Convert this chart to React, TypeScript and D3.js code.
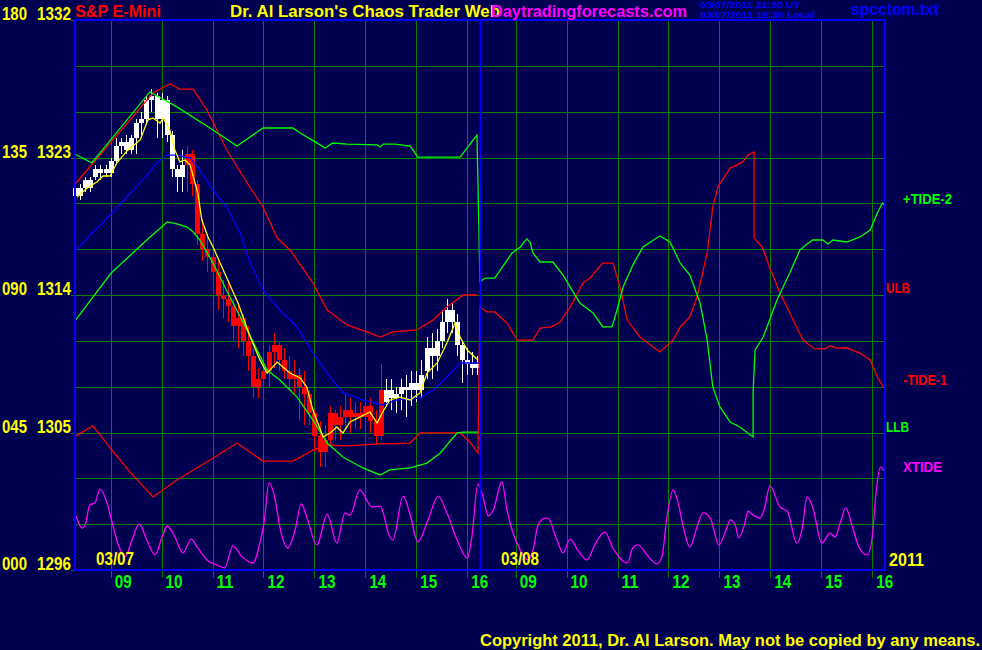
import * as d3 from "d3";

// ---- data -----------------------------------------------------------------
// time axis: clock hours, day 2 (03/08) = 24 + hour
const sessionBreaks = [8.3, 16.25, 32.3, 40.25];
const dayOffsets = [0, 24];
const dayLabels = ["03/07", "03/08"];
const hourTicks = [9, 10, 11, 12, 13, 14, 15, 16];
const priceTicks = [1296, 1305, 1314, 1323, 1332];
const oscTicks = [0, 45, 90, 135, 180];
const gridStepPts = 3;

// 6-minute price bars for 03/07
const barStart = 8.3;
const barStep = 0.1;
const redFrom = 10.5;
const redTo = 14.3;
const barOpen = [1320.5, 1320.5, 1321.0, 1321.5, 1321.75, 1322.25, 1322.0, 1322.0, 1322.75, 1323.75,
  1324.0, 1323.5, 1324.25, 1325.25, 1325.5, 1326.75, 1327.0, 1325.5, 1326.75, 1324.5,
  1322.25, 1321.75, 1322.5, 1323.25, 1321.25, 1318.0, 1317.0, 1316.5, 1315.5, 1314.0,
  1313.75, 1313.25, 1312.0, 1312.5, 1311.0, 1310.0, 1308.0, 1308.5, 1309.0, 1310.25,
  1310.75, 1309.75, 1309.0, 1308.5, 1308.75, 1308.0, 1307.5, 1306.25, 1304.75, 1303.75,
  1304.5, 1306.25, 1305.5, 1306.0, 1306.5, 1306.0, 1306.25, 1306.0, 1306.75, 1305.75,
  1304.75, 1307.0, 1307.75, 1307.25, 1307.5, 1308.0, 1307.75, 1308.25, 1307.75, 1309.0,
  1310.5, 1310.0, 1311.0, 1312.25, 1313.0, 1312.25, 1310.75, 1309.75, 1309.5, 1309.25];
const barHigh = [1321.25, 1321.25, 1321.75, 1321.75, 1322.5, 1322.5, 1322.5, 1323.0, 1324.25, 1324.25,
  1324.5, 1324.5, 1325.5, 1326.0, 1327.0, 1327.5, 1327.25, 1327.25, 1327.0, 1324.75,
  1322.5, 1323.5, 1323.75, 1323.5, 1321.5, 1319.0, 1318.0, 1317.0, 1316.25, 1315.0,
  1315.0, 1313.75, 1313.5, 1312.75, 1312.0, 1310.5, 1309.25, 1309.75, 1310.75, 1311.5,
  1311.0, 1310.5, 1310.0, 1309.75, 1309.25, 1309.0, 1307.75, 1306.5, 1305.75, 1305.5,
  1306.75, 1306.5, 1306.75, 1307.5, 1307.25, 1307.0, 1307.0, 1307.5, 1307.25, 1306.5,
  1309.5, 1308.5, 1308.5, 1308.0, 1308.5, 1308.75, 1309.0, 1309.0, 1309.75, 1311.25,
  1311.5, 1311.75, 1313.0, 1313.75, 1313.5, 1312.75, 1311.0, 1310.5, 1310.25, 1310.0];
const barLow = [1320.25, 1320.25, 1320.75, 1320.75, 1321.5, 1321.5, 1321.75, 1321.75, 1322.5, 1323.25,
  1323.25, 1323.25, 1323.25, 1324.5, 1325.25, 1326.0, 1324.25, 1324.25, 1324.0, 1321.75,
  1320.75, 1320.75, 1320.75, 1320.5, 1317.25, 1316.25, 1315.5, 1314.5, 1313.0, 1312.5,
  1312.25, 1311.0, 1310.5, 1310.0, 1309.0, 1307.25, 1307.25, 1307.75, 1308.0, 1309.25,
  1309.0, 1308.5, 1307.75, 1307.5, 1305.75, 1305.5, 1305.5, 1303.75, 1302.75, 1302.75,
  1304.25, 1304.5, 1304.5, 1305.25, 1305.0, 1305.25, 1305.25, 1305.25, 1305.0, 1304.25,
  1304.5, 1306.75, 1306.5, 1306.25, 1306.5, 1306.0, 1306.75, 1307.0, 1307.25, 1308.5,
  1308.5, 1309.0, 1310.5, 1311.5, 1311.5, 1310.0, 1308.25, 1308.75, 1308.75, 1308.75];
const barClose = [1321.0, 1321.0, 1321.5, 1321.0, 1322.25, 1322.0, 1322.25, 1322.75, 1323.75, 1324.0,
  1323.5, 1324.25, 1325.25, 1325.5, 1326.75, 1327.0, 1325.5, 1326.75, 1324.5, 1322.25,
  1321.75, 1322.5, 1323.25, 1321.25, 1318.0, 1317.0, 1316.5, 1315.5, 1314.0, 1313.75,
  1313.25, 1312.0, 1312.5, 1311.0, 1310.0, 1308.0, 1308.5, 1309.0, 1310.25, 1310.75,
  1309.75, 1309.0, 1308.5, 1308.75, 1308.0, 1307.5, 1306.25, 1304.75, 1303.75, 1304.5,
  1306.25, 1305.5, 1306.0, 1306.5, 1306.0, 1306.25, 1306.0, 1306.75, 1305.75, 1304.75,
  1307.75, 1307.75, 1307.25, 1307.5, 1308.0, 1307.75, 1308.25, 1307.75, 1308.75, 1310.5,
  1310.0, 1311.0, 1312.25, 1313.0, 1312.25, 1310.75, 1309.75, 1309.5, 1309.25, 1309.5];

type Pt = [number, number];

// upper band (03/07) continuing as +TIDE-2 (03/08)
const greenUpper: Pt[] = [[8.30, 1323.23], [8.63, 1322.64], [9.77, 1327.29], [10.30, 1326.31], [11.01, 1324.80],
  [11.48, 1323.75], [11.99, 1324.93], [12.58, 1324.93], [12.72, 1324.60], [12.95, 1324.15], [13.21, 1323.62],
  [13.36, 1323.95], [13.64, 1323.88], [14.23, 1323.82], [14.29, 1323.69], [14.35, 1323.88], [14.58, 1323.88],
  [14.88, 1323.75], [15.03, 1323.03], [15.86, 1323.03], [16.19, 1324.47],
  [32.30, 1314.85], [32.40, 1315.11], [32.59, 1315.11], [32.93, 1316.75], [33.09, 1317.14], [33.22, 1317.67],
  [33.28, 1317.47], [33.34, 1316.75], [33.48, 1316.16], [33.73, 1316.16], [33.93, 1315.31], [34.07, 1314.52],
  [34.26, 1313.48], [34.52, 1312.82], [34.71, 1311.91], [34.89, 1311.91], [34.99, 1313.02], [35.11, 1314.52],
  [35.30, 1315.96], [35.50, 1317.14], [35.83, 1317.86], [36.03, 1317.47], [36.23, 1316.09], [36.42, 1315.31],
  [36.62, 1313.48], [36.76, 1311.05], [36.87, 1307.98], [37.01, 1306.67], [37.21, 1305.69], [37.40, 1305.36],
  [37.66, 1304.71], [37.66, 1307.59], [37.70, 1310.40], [37.86, 1311.25], [38.13, 1313.67], [38.38, 1315.44],
  [38.58, 1316.95], [38.72, 1317.34], [38.83, 1317.60], [39.03, 1317.60], [39.13, 1317.34], [39.23, 1317.60],
  [39.50, 1317.47], [39.76, 1317.80], [39.96, 1318.25], [40.10, 1319.37], [40.20, 1320.02], [40.24, 1319.89]];

const greenLower: Pt[] = [[8.30, 1312.30], [9.01, 1315.44], [9.71, 1317.60], [10.11, 1318.78], [10.30, 1318.65],
  [10.50, 1318.45], [10.62, 1318.12], [10.75, 1317.60], [11.01, 1316.09], [11.34, 1313.87], [11.68, 1311.71],
  [12.07, 1309.09], [12.32, 1308.44], [12.66, 1307.32], [12.97, 1305.82], [13.25, 1304.31], [13.56, 1303.40],
  [13.95, 1302.68], [14.29, 1302.22], [14.48, 1302.55], [14.88, 1302.68], [15.21, 1303.00], [15.47, 1303.66],
  [15.80, 1304.97], [15.92, 1305.03], [16.21, 1305.03]];

const redUpper: Pt[] = [[8.32, 1321.33], [9.83, 1327.22], [10.16, 1327.81], [10.36, 1327.48], [10.62, 1327.48],
  [10.89, 1326.11], [11.28, 1323.49], [11.68, 1321.33], [11.99, 1319.76], [12.27, 1317.73], [12.52, 1316.95],
  [12.97, 1314.79], [13.25, 1313.02], [13.64, 1312.04], [14.03, 1311.58], [14.29, 1311.25], [14.54, 1311.58],
  [15.01, 1311.71], [15.33, 1312.37], [15.60, 1313.22], [15.92, 1314.00], [16.19, 1314.00]];

// lower band (03/07) continuing as -TIDE-1 (03/08)
const redLower: Pt[] = [[8.32, 1304.77], [8.65, 1305.43], [8.99, 1303.99], [9.38, 1302.41], [9.83, 1300.78],
  [10.30, 1301.89], [10.95, 1303.20], [11.48, 1304.31], [11.99, 1303.13], [12.58, 1303.13], [12.97, 1303.85],
  [13.25, 1304.18], [13.64, 1304.12], [14.29, 1304.25], [14.88, 1304.31], [15.07, 1304.97], [15.86, 1304.97],
  [16.05, 1304.38], [16.21, 1303.66],
  [32.30, 1313.21], [32.44, 1312.89], [32.59, 1312.89], [32.83, 1312.17], [33.03, 1311.05], [33.34, 1311.05],
  [33.48, 1311.84], [33.71, 1311.91], [33.87, 1312.23], [34.07, 1313.21], [34.32, 1314.79], [34.46, 1315.11],
  [34.71, 1316.09], [34.91, 1316.09], [35.05, 1314.52], [35.19, 1312.36], [35.44, 1311.25], [35.83, 1310.27],
  [36.09, 1311.05], [36.23, 1311.91], [36.42, 1312.56], [36.56, 1313.87], [36.76, 1316.75], [36.87, 1319.76],
  [36.97, 1321.07], [37.21, 1322.31], [37.46, 1322.71], [37.56, 1323.16], [37.68, 1323.36], [37.68, 1317.73],
  [37.84, 1317.14], [37.99, 1315.77], [38.19, 1314.13], [38.38, 1312.82], [38.64, 1311.05], [38.87, 1310.47],
  [39.07, 1310.47], [39.17, 1310.66], [39.31, 1310.53], [39.50, 1310.53], [39.76, 1310.20], [39.96, 1309.75],
  [40.10, 1308.63], [40.22, 1307.98]];

const blueAvg: Pt[] = [[8.30, 1316.81], [8.54, 1317.73], [8.99, 1319.24], [9.32, 1320.41], [9.71, 1321.85],
  [9.91, 1322.64], [10.11, 1323.16], [10.30, 1323.16], [10.56, 1322.97], [10.75, 1322.18], [11.01, 1320.87],
  [11.28, 1319.76], [11.54, 1318.06], [11.74, 1316.09], [11.99, 1314.33], [12.32, 1313.02], [12.66, 1311.91],
  [12.97, 1310.20], [13.31, 1308.63], [13.56, 1307.59], [13.95, 1307.13], [14.33, 1306.80], [14.62, 1307.13],
  [15.07, 1307.26], [15.33, 1307.78], [15.60, 1308.63], [15.86, 1309.55], [16.21, 1309.55]];

const yellowAvg: Pt[] = [[8.34, 1320.41], [8.54, 1321.00], [8.73, 1321.40], [8.85, 1321.79], [8.99, 1321.79],
  [9.12, 1322.64], [9.32, 1323.43], [9.58, 1324.15], [9.73, 1325.45], [9.83, 1325.59], [9.97, 1325.26],
  [10.03, 1325.59], [10.16, 1324.80], [10.26, 1323.49], [10.36, 1322.71], [10.46, 1322.84], [10.56, 1322.51],
  [10.71, 1320.68], [10.79, 1318.91], [10.91, 1317.80], [11.01, 1317.14], [11.21, 1315.64], [11.50, 1313.48],
  [11.74, 1311.25], [11.93, 1309.75], [12.07, 1308.89], [12.27, 1309.61], [12.38, 1309.29], [12.52, 1308.89],
  [12.72, 1308.57], [12.85, 1307.98], [12.97, 1306.47], [13.17, 1304.71], [13.31, 1304.97], [13.44, 1305.36],
  [13.56, 1304.97], [13.70, 1305.69], [13.89, 1306.01], [14.09, 1306.34], [14.23, 1305.62], [14.33, 1306.28],
  [14.48, 1307.13], [14.68, 1307.32], [14.88, 1307.13], [15.07, 1307.59], [15.21, 1308.89], [15.41, 1309.55],
  [15.60, 1310.86], [15.76, 1312.17], [15.86, 1311.25], [16.00, 1310.40], [16.21, 1309.75]];

// XTIDE on the 000-180 scale
const xtide: Pt[] = [[8.32, 17.7], [8.44, 13.7], [8.50, 14.7], [8.59, 21.3], [8.69, 21.9], [8.79, 26.5],
  [8.93, 21.9], [9.03, 15.4], [9.14, 8.8], [9.28, 4.3], [9.42, 9.8], [9.56, 15.1], [9.71, 9.8], [9.87, 4.9],
  [10.01, 10.8], [10.11, 14.4], [10.26, 10.8], [10.42, 5.6], [10.58, 10.1], [10.70, 7.5], [10.89, 3.3],
  [11.09, 1.6], [11.24, 0.7], [11.40, 7.9], [11.58, 4.3], [11.79, 2.3], [11.93, 8.8], [12.01, 15.4],
  [12.11, 28.5], [12.23, 22.9], [12.32, 14.1], [12.48, 7.2], [12.62, 13.1], [12.74, 21.6], [12.85, 17.3],
  [13.05, 8.2], [13.25, 18.3], [13.44, 8.8], [13.60, 18.7], [13.70, 18.0], [13.89, 26.2], [14.13, 20.6],
  [14.29, 20.9], [14.48, 10.8], [14.54, 9.8], [14.74, 24.2], [14.88, 18.0], [15.03, 9.2], [15.23, 16.4],
  [15.43, 24.2], [15.60, 18.7], [15.80, 9.8], [16.00, 3.9], [16.09, 10.8], [16.21, 28.1],
  [32.36, 23.9], [32.46, 17.7], [32.56, 19.6], [32.73, 28.8], [32.83, 19.6], [32.93, 13.1], [33.09, 6.5],
  [33.24, 3.3], [33.34, 6.5], [33.44, 14.7], [33.58, 17.0], [33.63, 17.0], [33.81, 9.8], [33.93, 5.6],
  [34.07, 10.1], [34.22, 6.5], [34.40, 3.3], [34.56, 8.5], [34.75, 12.4], [34.91, 7.2], [35.19, 2.3],
  [35.30, 7.2], [35.40, 8.2], [35.58, 4.9], [35.77, 2.0], [35.87, 4.3], [35.97, 17.3], [36.09, 26.2],
  [36.19, 21.9], [36.29, 14.1], [36.42, 7.5], [36.56, 14.1], [36.68, 18.7], [36.82, 17.0], [36.99, 8.2],
  [37.15, 14.1], [37.21, 16.4], [37.31, 14.7], [37.38, 10.5], [37.50, 15.4], [37.56, 19.3], [37.66, 18.0],
  [37.80, 17.0], [37.89, 20.6], [37.99, 27.5], [38.19, 20.6], [38.33, 19.3], [38.52, 8.8], [38.62, 13.1],
  [38.72, 23.9], [38.83, 20.6], [39.01, 8.8], [39.17, 12.1], [39.27, 10.8], [39.37, 15.4], [39.48, 20.3],
  [39.60, 14.7], [39.72, 8.2], [39.90, 4.9], [40.00, 10.8], [40.06, 22.9], [40.16, 33.7], [40.25, 32.1]];

const sideLabels = [
  { text: "+TIDE-2", color: "#00ff00", price: 1319.96, indent: 18, width: 49 },
  { text: "ULB", color: "#ff0000", price: 1314.13, indent: 1, width: 24 },
  { text: "-TIDE-1", color: "#ff0000", price: 1308.1, indent: 18, width: 44 },
  { text: "LLB", color: "#00ff00", price: 1305.03, indent: 1, width: 23 },
  { text: "XTIDE", color: "#ff00ff", price: 1302.41, indent: 18, width: 39 },
];

// ---- chart ----------------------------------------------------------------
const W = 982;
const H = 650;
const BG = "#000050";
const GRID = "#008000";
const FRAME = "#0000ff";
const FONT = "'Liberation Sans', Arial, sans-serif";

export default function App() {
  const left = 75, right = 885, top = 20, bottom = 570;

  const x = d3.scaleLinear().domain(sessionBreaks).range([left, 480, 480, right]);
  const y = d3.scaleLinear().domain([priceTicks[0], priceTicks[priceTicks.length - 1]]).range([bottom, top]);
  const yOsc = d3.scaleLinear().domain([oscTicks[0], oscTicks[oscTicks.length - 1]]).range([bottom, top]);

  const priceLine = d3.line<Pt>().x((d) => x(d[0])).y((d) => y(d[1]));
  const oscLine = d3.line<Pt>().x((d) => x(d[0])).y((d) => yOsc(d[1])).curve(d3.curveMonotoneX);

  const gridPrices = d3.range(priceTicks[0] + gridStepPts, priceTicks[priceTicks.length - 1], gridStepPts);
  const gridHours = dayOffsets.flatMap((off) => hourTicks.map((h) => h + off));
  const fmtOsc = d3.format("03d");

  const bars = barOpen.map((o, i) => {
    const t = barStart + i * barStep;
    return { t, o, h: barHigh[i], l: barLow[i], c: barClose[i], red: t >= redFrom - 1e-6 && t <= redTo + 1e-6 };
  });

  const lines: { data: Pt[]; color: string }[] = [
    { data: blueAvg, color: "#0000ff" },
    { data: redUpper, color: "#ff0000" },
    { data: redLower, color: "#ff0000" },
    { data: greenUpper, color: "#00ff00" },
    { data: greenLower, color: "#00ff00" },
  ];

  return (
    <svg width={W} height={H} style={{ position: "absolute", left: 0, top: 0, background: BG }} fontFamily={FONT}>
      <rect width={W} height={H} fill={BG} />

      {/* grid */}
      <g stroke={GRID} strokeWidth={1} shapeRendering="crispEdges">
        {gridPrices.map((p) => (
          <line key={p} x1={left} x2={right} y1={Math.round(y(p))} y2={Math.round(y(p))} />
        ))}
        {gridHours.map((h) => (
          <line key={h} x1={Math.round(x(h))} x2={Math.round(x(h))} y1={top} y2={bottom + 8} />
        ))}
        {priceTicks.map((p) => (
          <line key={"t" + p} x1={left - 4} x2={left} y1={Math.round(y(p))} y2={Math.round(y(p))} />
        ))}
      </g>

      {/* price bars */}
      <g>
        {bars.map((b, i) => {
          const cx = x(b.t);
          const col = b.red ? "#ff0000" : "#ffffff";
          const y0 = y(Math.max(b.o, b.c));
          const y1 = y(Math.min(b.o, b.c));
          return (
            <g key={i} fill={col} shapeRendering="crispEdges">
              <rect x={Math.round(cx)} y={y(b.h)} width={1} height={y(b.l) - y(b.h)} />
              <rect x={Math.round(cx) - 2} y={y0} width={5} height={Math.max(2, y1 - y0)} />
            </g>
          );
        })}
      </g>

      {/* bands & averages */}
      <g fill="none" strokeWidth={1.3}>
        {lines.map((l, i) => (
          <path key={i} d={priceLine(l.data) ?? ""} stroke={l.color} />
        ))}
        <path d={priceLine(yellowAvg) ?? ""} stroke="#ffff00" />
        <path d={oscLine(xtide) ?? ""} stroke="#ff00ff" />
      </g>

      {/* frame */}
      <g stroke={FRAME} fill="none">
        <rect x={left} y={top} width={right - left} height={bottom - top} strokeWidth={2} />
        <line x1={480.5} x2={480.5} y1={top} y2={bottom} strokeWidth={2} />
      </g>

      {/* left scale */}
      <g fill="#ffff00" fontSize={19} fontWeight="bold">
        {priceTicks.map((p, i) => (
          <g key={p}>
            <text x={2} y={y(p)} textLength={25} lengthAdjust="spacingAndGlyphs">{fmtOsc(oscTicks[i])}</text>
            <text x={37} y={y(p)} textLength={34} lengthAdjust="spacingAndGlyphs">{p}</text>
          </g>
        ))}
      </g>

      {/* hour labels */}
      <g fill="#00ff00" fontSize={18} fontWeight="bold">
        {gridHours.map((h) => (
          <text key={h} x={x(h) + 4} y={588} textLength={17} lengthAdjust="spacingAndGlyphs">
            {String(h % 24).padStart(2, "0")}
          </text>
        ))}
      </g>

      {/* day labels */}
      <g fill="#ffff00" fontSize={18} fontWeight="bold">
        {dayOffsets.map((off, i) => (
          <text key={off} x={x(sessionBreaks[0] + off) + 21} y={565} textLength={38} lengthAdjust="spacingAndGlyphs">
            {dayLabels[i]}
          </text>
        ))}
        <text x={889} y={566} textLength={35} lengthAdjust="spacingAndGlyphs">2011</text>
      </g>

      {/* right labels */}
      <g fontSize={15} fontWeight="bold">
        {sideLabels.map((s) => (
          <text key={s.text} x={right + s.indent} y={y(s.price)} fill={s.color} textLength={s.width} lengthAdjust="spacingAndGlyphs">
            {s.text}
          </text>
        ))}
      </g>

      {/* header */}
      <g fontSize={17} fontWeight="bold">
        <text x={75} y={17} fill="#ff0000" textLength={86} lengthAdjust="spacingAndGlyphs">S&amp;P E-Mini</text>
        <text x={230} y={17} fill="#ffff00" textLength={270} lengthAdjust="spacingAndGlyphs">Dr. Al Larson's Chaos Trader Web</text>
        <text x={491} y={17} fill="#ff00ff" textLength={196} lengthAdjust="spacingAndGlyphs">Daytradingforecasts.com</text>
      </g>
      <g fill="#0000ff" fontSize={9} fontWeight="bold">
        <text x={700} y={8} textLength={100} lengthAdjust="spacingAndGlyphs">03/07/2011 21:30 UT</text>
        <text x={700} y={18} textLength={115} lengthAdjust="spacingAndGlyphs">03/07/2011 16:30 Local</text>
      </g>
      <text x={851} y={15} fill="#0000ff" fontSize={17} fontWeight="bold" textLength={88} lengthAdjust="spacingAndGlyphs">spcctom.txt</text>

      {/* footer */}
      <text x={480} y={646} fill="#ffff00" fontSize={16} fontWeight="bold" textLength={500} lengthAdjust="spacingAndGlyphs">
        Copyright 2011, Dr. Al Larson. May not be copied by any means.
      </text>
    </svg>
  );
}
